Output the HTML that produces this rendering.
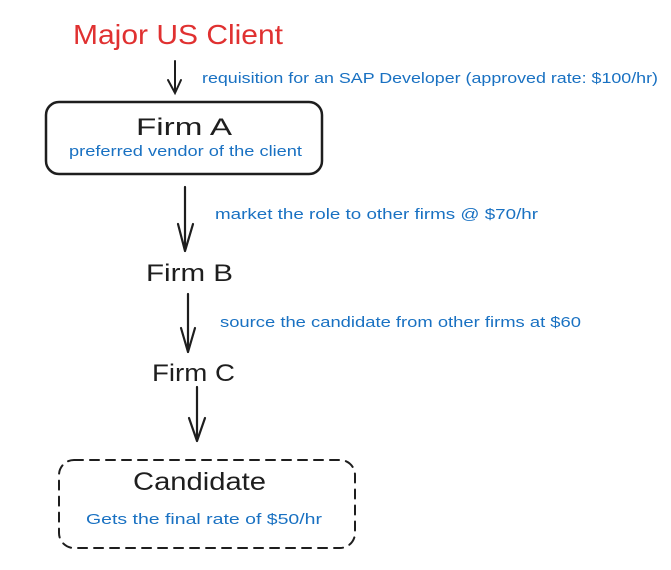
<!DOCTYPE html>
<html><head><meta charset="utf-8"><style>
html,body{margin:0;padding:0;background:#fff;}
svg{display:block;}
text{font-family:"Liberation Sans",sans-serif;}
</style></head><body>
<svg width="671" height="570" viewBox="0 0 671 570" xmlns="http://www.w3.org/2000/svg">
<rect width="671" height="570" fill="#fff"/>
<text x="73" y="44" font-size="28" fill="#e03131" textLength="210" lengthAdjust="spacingAndGlyphs">Major US Client</text>
<g stroke="#1e1e1e" stroke-width="2" fill="none" stroke-linecap="round">
<path d="M175 61 L175 93 M168 80 L175 93 L181 80"/>
<rect x="46" y="102" width="276" height="72" rx="13" stroke-width="2.5"/>
<path d="M185 187 L185 251 M178 224 L185 251 M193 224 L185 251" stroke-width="2.2"/>
<path d="M188 294 L188 352 M181 328 L188 352 M195 328 L188 352" stroke-width="2.2"/>
<path d="M197 387 L197 441 M189 418 L197 441 M205 418 L197 441" stroke-width="2.2"/>
<rect x="59" y="460" width="296" height="88" rx="15" stroke-dasharray="9 7"/>
</g>
<g fill="#1971c2" font-size="15">
<text x="202" y="83" textLength="456" lengthAdjust="spacingAndGlyphs">requisition for an SAP Developer (approved rate: $100/hr)</text>
<text x="69" y="156" textLength="233" lengthAdjust="spacingAndGlyphs">preferred vendor of the client</text>
<text x="215" y="219" textLength="323" lengthAdjust="spacingAndGlyphs">market the role to other firms @ $70/hr</text>
<text x="220" y="327" textLength="361" lengthAdjust="spacingAndGlyphs">source the candidate from other firms at $60</text>
<text x="86" y="524" textLength="236" lengthAdjust="spacingAndGlyphs">Gets the final rate of $50/hr</text>
</g>
<g fill="#1e1e1e" font-size="24">
<text x="136" y="135" textLength="96" lengthAdjust="spacingAndGlyphs">Firm A</text>
<text x="146" y="281" textLength="87" lengthAdjust="spacingAndGlyphs">Firm B</text>
<text x="152" y="381" textLength="83" lengthAdjust="spacingAndGlyphs">Firm C</text>
<text x="133" y="490" font-size="25" textLength="133" lengthAdjust="spacingAndGlyphs">Candidate</text>
</g>
</svg>
</body></html>
